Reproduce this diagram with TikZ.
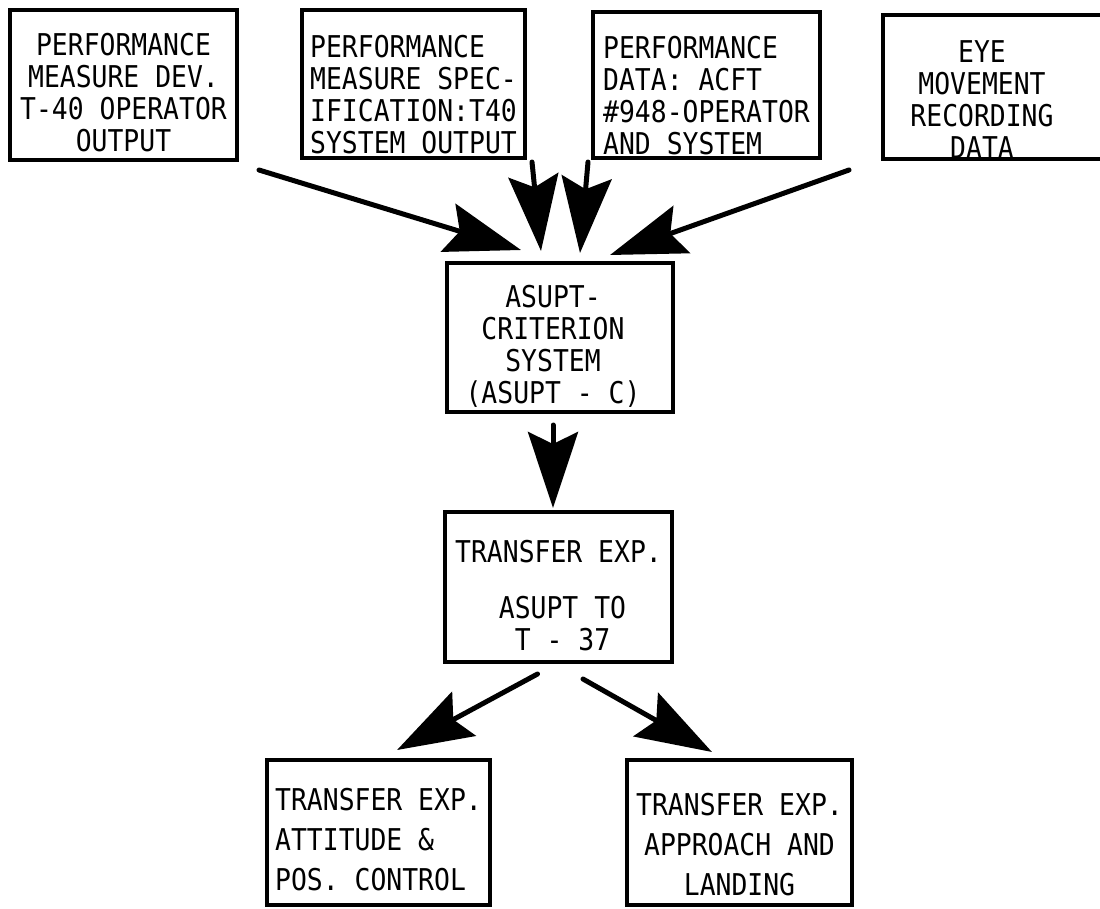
\documentclass[tikz,border=0pt]{standalone}
\usepackage{fontspec}
\newfontfamily\typ[FakeStretch=0.88]{DejaVu Sans Mono}
\usetikzlibrary{arrows.meta,calc}
\newcommand\dn[1]{\rule{0pt}{#1pt}}
\newcommand\padr[1]{\makebox[#1pt]{}}
\begin{document}
\begin{tikzpicture}[x=1pt,y=-1pt,
  box/.style={draw,line width=4pt,rectangle,inner sep=0pt,
    font=\typ\fontsize{30}{32}\selectfont},
  arr/.style={line width=5pt,line cap=round,
    -{Stealth[length=76pt,width=50pt,inset=12pt]}}]
\useasboundingbox (0,0) rectangle (1100,908);
% top row
\node[box,minimum width=227pt,minimum height=150pt,align=center] (b1) at (123.5,85)
  {\dn{38}PERFORMANCE\\MEASURE DEV.\\T-40 OPERATOR\\OUTPUT};
\node[box,minimum width=223pt,minimum height=148pt,align=left] (b2) at (413.5,84)
  {\dn{44}PERFORMANCE\\MEASURE SPEC-\\IFICATION:T40\\SYSTEM OUTPUT};
\node[box,minimum width=227pt,minimum height=146pt,align=left] (b3) at (706.5,85)
  {\dn{44}PERFORMANCE\\DATA: ACFT\\\#948-OPERATOR\\AND SYSTEM};
\node[box,minimum width=222pt,minimum height=143pt,align=center] (b4) at (994,86.5)
  {\dn{48}EYE\padr{24}\\MOVEMENT\padr{24}\\RECORDING\padr{24}\\DATA\padr{24}};
% middle
\node[box,minimum width=226pt,minimum height=149pt,align=center] (asupt) at (560,337.5)
  {\dn{39}ASUPT-\padr{14}\\CRITERION\padr{14}\\SYSTEM\padr{14}\\(ASUPT - C)\padr{14}};
\node[box,minimum width=227pt,minimum height=150pt,align=center] (tr) at (558.5,587)
  {\dn{40}TRANSFER EXP.\\[24pt]\padr{8}ASUPT TO\\\padr{8}T - 37};
% bottom
\node[box,minimum width=223pt,minimum height=145pt,align=left] (bl) at (378.5,832.5)
  {\dn{36}TRANSFER EXP.\\[8pt]ATTITUDE \&\\[8pt]POS. CONTROL};
\node[box,minimum width=225pt,minimum height=145pt,align=center] (br) at (739.5,832.5)
  {\dn{46}TRANSFER EXP.\\[8pt]APPROACH AND\\[8pt]LANDING};
% arrows
\draw[arr] ($(b1.south east)+(20,8)$) -- ($(asupt.north west)+(76,-11)$);
\draw[arr] ($(b2.south east)+(5,2)$) -- ($(asupt.north west)+(96,-10)$);
\draw[arr] ($(b3.south west)+(-3,2)$) -- ($(asupt.north)+(20,-8)$);
\draw[arr] ($(b3.south east)+(27,10)$) -- ($(asupt.north)+(50,-6)$);
\draw[arr] ($(asupt.south)+(-7,11)$) -- ($(tr.north)+(-5.5,-2)$);
\draw[arr] ($(tr.south)+(-21,10)$) -- ($(bl.north)+(18.5,-8)$);
\draw[arr] ($(tr.south)+(24.5,15)$) -- ($(br.north)+(-27.5,-6)$);
\end{tikzpicture}
\end{document}
